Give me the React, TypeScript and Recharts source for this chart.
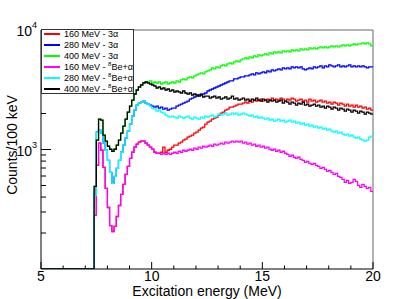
import { LineChart, Line, XAxis, YAxis, Legend, ReferenceLine } from "recharts";

const FONT = '"Liberation Sans", Arial, Helvetica, sans-serif';

// 100 keV bins starting at 7.4 MeV
const binStart = 7.4;
const binWidth = 0.1;
const floorCount = 100; // empty bins sit on the bottom of the log axis

const xTicks = [5, 6, 7, 8, 9, 10, 11, 12, 13, 14, 15, 16, 17, 18, 19, 20];
const yTicks = [200, 300, 400, 500, 600, 700, 800, 900, 1000, 2000, 3000, 4000, 5000, 6000, 7000, 8000, 9000, 10000];

const red160 = [
    281, 737, 1129, 986, 709, 473, 327, 231, 206, 227,
    275, 340, 421, 510, 620, 723, 844, 948, 1045, 1107,
    1151, 1173, 1173, 1129, 1086, 1045, 1005, 948, 930, 930,
    948, 1045, 948, 986, 1005, 1045, 1086, 1086, 1129, 1151,
    1196, 1220, 1268, 1292, 1318, 1369, 1396, 1451, 1509, 1538,
    1630, 1694, 1728, 1796, 1831, 1867, 1940, 2017, 2056, 2137,
    2179, 2265, 2265, 2309, 2354, 2400, 2400, 2447, 2495, 2447,
    2544, 2495, 2594, 2544, 2594, 2644, 2544, 2594, 2644, 2594,
    2696, 2594, 2644, 2594, 2696, 2644, 2544, 2644, 2594, 2696,
    2644, 2544, 2594, 2644, 2544, 2594, 2495, 2644, 2544, 2594,
    2495, 2544, 2594, 2495, 2544, 2447, 2495, 2400, 2495, 2447,
    2354, 2447, 2400, 2309, 2400, 2309, 2354, 2265, 2354, 2265,
    2309, 2222, 2265, 2179, 2222, 2137,
];

const blue280 = [
    413, 1396, 1451, 1369, 1129, 986, 812, 644, 520, 596,
    696, 812, 948, 1086, 1243, 1424, 1630, 1903, 2137, 2354,
    2447, 2495, 2544, 2447, 2400, 2354, 2309, 2265, 2309, 2222,
    2265, 2179, 2222, 2137, 2179, 2222, 2222, 2309, 2354, 2400,
    2447, 2495, 2544, 2644, 2696, 2749, 2802, 2857, 2913, 2913,
    2969, 3087, 3147, 3208, 3271, 3335, 3400, 3466, 3534, 3603,
    3673, 3745, 3745, 3893, 3893, 3969, 4047, 4047, 4126, 4126,
    4207, 4289, 4207, 4373, 4289, 4373, 4458, 4373, 4545, 4458,
    4634, 4545, 4634, 4725, 4634, 4817, 4725, 4817, 4725, 4911,
    4817, 4911, 4817, 4911, 4725, 4634, 4725, 4817, 4725, 4911,
    4817, 4911, 5007, 4817, 5007, 4911, 5105, 5007, 4911, 5007,
    5105, 4911, 5007, 4911, 5007, 5105, 4911, 5007, 4911, 5007,
    4911, 5007, 4911, 4817, 4911, 4911,
];

const green400 = [
    491, 1196, 1796, 1761, 1318, 1173, 1065, 1005, 967, 1005,
    1086, 1196, 1369, 1568, 1796, 2056, 2309, 2594, 2913, 3147,
    3335, 3466, 3603, 3673, 3673, 3745, 3603, 3673, 3603, 3673,
    3534, 3603, 3673, 3534, 3603, 3673, 3603, 3745, 3673, 3818,
    3893, 3818, 3969, 4047, 3969, 4126, 4207, 4289, 4373, 4289,
    4458, 4545, 4634, 4817, 4725, 4911, 4817, 5007, 5105, 5007,
    5205, 5306, 5205, 5410, 5516, 5410, 5623, 5733, 5845, 5733,
    5959, 5845, 6076, 5959, 6194, 6076, 6194, 6315, 6194, 6439,
    6315, 6564, 6439, 6564, 6439, 6693, 6564, 6693, 6564, 6823,
    6693, 6823, 6693, 6957, 6823, 6957, 6823, 7093, 6957, 7093,
    6957, 7093, 7231, 7093, 7231, 7093, 7231, 7373, 7231, 7373,
    7231, 7373, 7517, 7373, 7517, 7373, 7517, 7663, 7517, 7663,
    7663, 7813, 7663, 7813, 7663, 7373,
];

const magenta160 = [
    281, 737, 1129, 986, 709, 473, 327, 231, 206, 227,
    275, 340, 421, 510, 620, 723, 844, 948, 1045, 1107,
    1151, 1173, 1173, 1129, 1086, 1045, 1005, 948, 930, 930,
    912, 930, 912, 930, 912, 930, 948, 930, 967, 948,
    986, 967, 986, 1005, 986, 1025, 1005, 1045, 1025, 1065,
    1045, 1065, 1086, 1065, 1107, 1086, 1107, 1129, 1107, 1151,
    1129, 1151, 1173, 1151, 1173, 1151, 1173, 1129, 1151, 1107,
    1129, 1086, 1107, 1065, 1086, 1045, 1065, 1025, 1045, 1005,
    986, 1005, 967, 986, 948, 967, 930, 912, 878, 895,
    861, 844, 861, 828, 812, 781, 797, 766, 752, 766,
    737, 723, 696, 709, 682, 657, 669, 644, 620, 632,
    596, 585, 562, 531, 552, 520, 531, 562, 541, 501,
    482, 510, 491, 473, 482, 446,
];

const cyan280 = [
    413, 1396, 1451, 1369, 1129, 986, 812, 644, 520, 596,
    696, 812, 948, 1086, 1243, 1424, 1630, 1903, 2137, 2354,
    2447, 2495, 2544, 2447, 2400, 2309, 2222, 2179, 2096, 2137,
    2056, 2017, 1940, 1903, 1867, 1903, 1867, 1831, 1903, 1867,
    1831, 1867, 1903, 1831, 1796, 1867, 1831, 1796, 1867, 1831,
    1903, 1867, 1903, 1940, 1867, 1903, 1978, 1940, 1978, 2017,
    1940, 1978, 2017, 1978, 2017, 1940, 1978, 2017, 1978, 1940,
    1903, 1940, 1867, 1903, 1831, 1867, 1831, 1796, 1831, 1761,
    1796, 1728, 1761, 1796, 1728, 1761, 1694, 1728, 1761, 1694,
    1728, 1662, 1694, 1630, 1662, 1599, 1630, 1568, 1599, 1538,
    1568, 1509, 1538, 1480, 1509, 1451, 1480, 1424, 1396, 1424,
    1369, 1396, 1343, 1318, 1343, 1292, 1318, 1268, 1243, 1268,
    1220, 1196, 1173, 1196, 1268, 1292,
];

const black400 = [
    491, 1196, 1796, 1761, 1318, 1173, 1065, 1005, 967, 1005,
    1086, 1196, 1369, 1568, 1796, 2056, 2309, 2594, 2913, 3147,
    3335, 3466, 3603, 3673, 3603, 3534, 3466, 3400, 3271, 3335,
    3208, 3271, 3147, 3208, 3087, 3147, 3027, 3087, 3027, 2969,
    3087, 2969, 2913, 2969, 2857, 2913, 2857, 2802, 2857, 2749,
    2802, 2802, 2696, 2749, 2802, 2696, 2749, 2644, 2696, 2749,
    2644, 2696, 2802, 2644, 2696, 2594, 2644, 2696, 2594, 2644,
    2544, 2644, 2594, 2696, 2594, 2544, 2644, 2594, 2495, 2594,
    2544, 2594, 2495, 2544, 2594, 2447, 2544, 2495, 2400, 2495,
    2447, 2354, 2447, 2400, 2495, 2354, 2400, 2309, 2354, 2400,
    2309, 2354, 2265, 2309, 2222, 2309, 2265, 2179, 2265, 2222,
    2137, 2222, 2179, 2096, 2179, 2137, 2056, 2137, 2096, 2017,
    2096, 2056, 1978, 2056, 2017, 1978,
];

const series = [
    { key: "red160", values: red160, color: "#ff0000", energy: 160, be: false },
    { key: "blue280", values: blue280, color: "#0000ff", energy: 280, be: false },
    { key: "green400", values: green400, color: "#00ff00", energy: 400, be: false },
    { key: "magenta160", values: magenta160, color: "#ff00ff", energy: 160, be: true },
    { key: "cyan280", values: cyan280, color: "#00ffff", energy: 280, be: true },
    { key: "black400", values: black400, color: "#000000", energy: 400, be: true },
];

// one row per bin edge; the last edge repeats the last bin so the step closes at 20 MeV
const nBins = black400.length;
const data: Record<string, number>[] = [];
data.push(Object.fromEntries([["e", 5], ...series.map((s) => [s.key, floorCount])]));
for (let i = 0; i <= nBins; i++) {
    const row: Record<string, number> = { e: +(binStart + i * binWidth).toFixed(1) };
    series.forEach((s) => { row[s.key] = s.values[Math.min(i, nBins - 1)]; });
    data.push(row);
}

const XTick = (props: any) => {
    const { x, y, payload } = props;
    const major = payload.value % 5 === 0;
    return (
        <g>
            <line x1={x} x2={x} y1={y} y2={y - (major ? 7 : 3.5)} stroke="#000" />
            {major && (
                <text x={x} y={y + 12} textAnchor="middle" fontSize={14} fontFamily={FONT} fill="#000">
                    {payload.value}
                </text>
            )}
        </g>
    );
};

const YTick = (props: any) => {
    const { x, y, payload } = props;
    const exp = Math.log10(payload.value);
    const major = Math.abs(exp - Math.round(exp)) < 1e-6;
    return (
        <g>
            <line x1={x} x2={x + (major ? 10 : 5)} y1={y} y2={y} stroke="#000" />
            {major && (
                <text x={x - 9} y={y + 6} textAnchor="end" fontSize={14} fontFamily={FONT} fill="#000">10</text>
            )}
            {major && (
                <text x={x - 9} y={y - 2} fontSize={9} fontFamily={FONT} fill="#000">{Math.round(exp)}</text>
            )}
        </g>
    );
};

const LegendBox = () => (
    <div style={{
        position: "relative", width: 93, height: 65, boxSizing: "border-box",
        border: "1px solid #333", background: "#fff", fontFamily: FONT, fontSize: 9, color: "#000",
    }}>
        {series.map((s, i) => (
            <div key={s.key} style={{
                position: "absolute", left: 2, top: 11 * i - 1, height: 10,
                display: "flex", alignItems: "center", whiteSpace: "nowrap", lineHeight: "10px",
            }}>
                <div style={{ width: 16, height: 2, background: s.color, marginRight: 4, flex: "none" }} />
                <span>
                    {s.energy} MeV - {s.be
                        ? <><sup style={{ fontSize: 6, lineHeight: 0, verticalAlign: "4px" }}>8</sup>Be+α</>
                        : "3α"}
                </span>
            </div>
        ))}
    </div>
);

export default function App() {
    return (
        <div style={{ position: "absolute", left: 0, top: 0, width: 415, height: 299, background: "#fff" }}>
            <LineChart width={415} height={299} data={data} margin={{ top: 30, right: 42, bottom: 0, left: 0 }}>
                <XAxis
                    dataKey="e" type="number" domain={[5, 20]} allowDataOverflow
                    ticks={xTicks} interval={0} tickSize={0} tickMargin={0} height={30}
                    axisLine={{ stroke: "#000" }} tick={(p: any) => <XTick {...p} />}
                    label={() => (
                        <text x={207} y={295.5} textAnchor="middle" fontSize={14} fontFamily={FONT} fill="#000">
                            Excitation energy (MeV)
                        </text>
                    )}
                />
                <YAxis
                    type="number" scale="log" domain={[floorCount, 10000]} allowDataOverflow
                    ticks={yTicks} interval={0} tickSize={0} tickMargin={0} width={41}
                    axisLine={{ stroke: "#000" }} tick={(p: any) => <YTick {...p} />}
                    label={() => (
                        <text x={17} y={145} transform="rotate(-90 17 145)" textAnchor="middle" fontSize={14} fontFamily={FONT} fill="#000">
                            Counts/100 keV
                        </text>
                    )}
                />
                <ReferenceLine y={10000} stroke="#666" />
                <ReferenceLine x={20} stroke="#666" />
                {series.map((s) => (
                    <Line
                        key={s.key}
                        dataKey={s.key}
                        type="stepAfter"
                        stroke={s.color}
                        strokeWidth={1.3}
                        dot={false}
                        activeDot={false}
                        isAnimationActive={false}
                    />
                ))}
                <Legend
                    content={() => <LegendBox />}
                    layout="horizontal" verticalAlign="middle" align="center"
                    wrapperStyle={{ left: 41, top: 29, width: 93, height: 65 }}
                />
            </LineChart>
        </div>
    );
}
